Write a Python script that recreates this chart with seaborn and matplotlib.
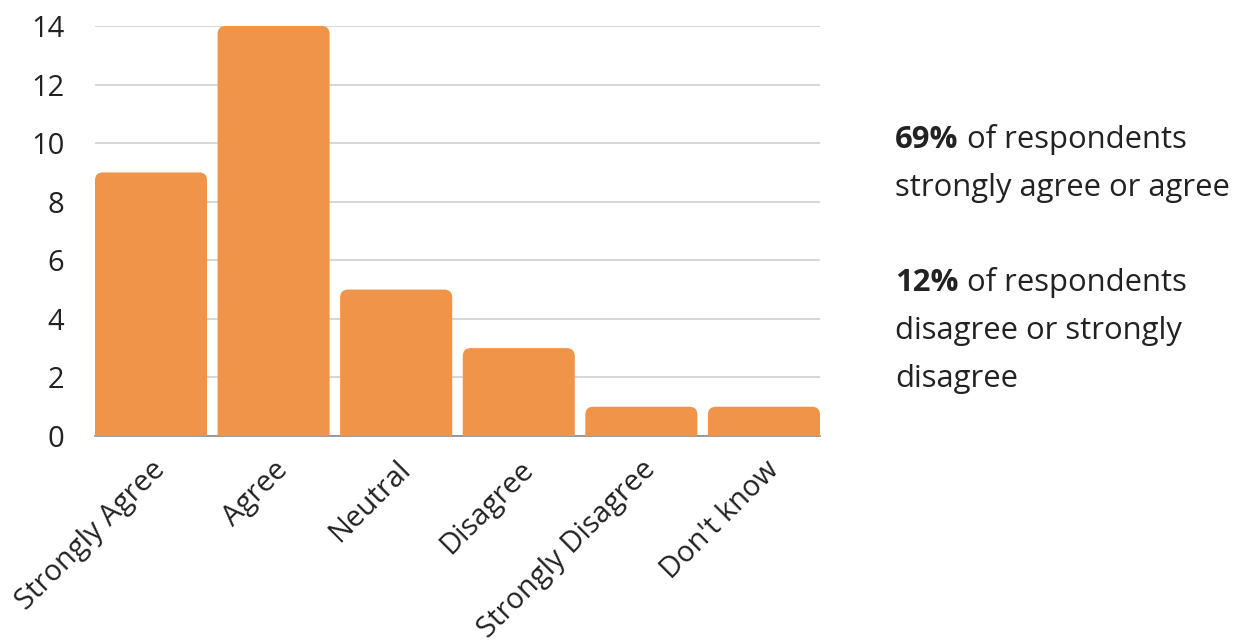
import matplotlib
matplotlib.use("Agg")
import matplotlib.pyplot as plt
from matplotlib.patches import FancyBboxPatch
import seaborn as sns
import pandas as pd

categories = ["Strongly Agree", "Agree", "Neutral", "Disagree", "Strongly Disagree", "Don't know"]
counts = [9, 14, 5, 3, 1, 1]
y_ticks = [0, 2, 4, 6, 8, 10, 12, 14]

BAR_COLOR = "#F0944A"
TEXT_COLOR = "#222222"
FONT_SIZE = 21
NOTE_SIZE = 22.3
BAR_WIDTH = 0.914

sns.set_theme(style="white")
plt.rcParams["font.family"] = ["Open Sans", "DejaVu Sans"]

df = pd.DataFrame({"response": categories, "count": counts})

fig = plt.figure(figsize=(12.53, 6.42), dpi=100)
ax = fig.add_axes([0.0758, 0.3209, 0.5786, 0.6386])

sns.barplot(data=df, x="response", y="count", color=BAR_COLOR, width=BAR_WIDTH,
            saturation=1, ax=ax, zorder=3)

ax.set_ylim(0, 14)
ax.set_xlim(-BAR_WIDTH / 2, len(categories) - 1 + BAR_WIDTH / 2)

# swap the plain rectangles for bars with rounded top corners
fig.canvas.draw()
bbox = ax.get_window_extent()
px_per_x = bbox.width / (ax.get_xlim()[1] - ax.get_xlim()[0])
px_per_y = bbox.height / (ax.get_ylim()[1] - ax.get_ylim()[0])
radius_px = 8
rx = radius_px / px_per_x
aspect = px_per_x / px_per_y
for p in list(ax.patches):
    x0, w, h = p.get_x(), p.get_width(), p.get_height()
    extra = 2 * radius_px / px_per_y
    rounded = FancyBboxPatch((x0, -extra), w, h + extra,
                             boxstyle=f"round,pad=0,rounding_size={rx}",
                             mutation_aspect=aspect,
                             facecolor=BAR_COLOR, edgecolor="none", zorder=3)
    ax.add_patch(rounded)
    p.remove()

ax.set_yticks(y_ticks)
ax.yaxis.grid(True, color="#cfcfcf", linewidth=1.2, zorder=0)
ax.xaxis.grid(False)
for side in ["top", "right", "left"]:
    ax.spines[side].set_visible(False)
ax.spines["bottom"].set_color("#8a8a8a")
ax.spines["bottom"].set_linewidth(1.2)
ax.spines["bottom"].set_zorder(2)

ax.set_xlabel("")
ax.set_ylabel("")
ax.tick_params(axis="y", length=0, pad=22, labelsize=FONT_SIZE, labelcolor=TEXT_COLOR)
ax.tick_params(axis="x", length=0, pad=14, labelsize=FONT_SIZE, labelcolor=TEXT_COLOR)
for lab in ax.get_xticklabels():
    lab.set_rotation(45)
    lab.set_rotation_mode("anchor")
    lab.set_ha("right")
    lab.set_va("top")

# summary notes beside the chart
def note(y, bold, rest_lines):
    t = fig.text(0.7145, y, bold, fontsize=NOTE_SIZE, fontweight="bold",
                 color=TEXT_COLOR, va="baseline")
    fig.canvas.draw()
    ax.annotate(" " + rest_lines[0], xy=(1, 0), xycoords=t,
                fontsize=NOTE_SIZE, color=TEXT_COLOR, va="bottom",
                annotation_clip=False)
    for i, line in enumerate(rest_lines[1:], start=1):
        fig.text(0.7145, y - i * 0.0745, line, fontsize=NOTE_SIZE,
                 color=TEXT_COLOR, va="baseline")

note(1 - 148 / 642, "69%", ["of respondents", "strongly agree or agree"])
note(1 - 291 / 642, "12%", ["of respondents", "disagree or strongly", "disagree"])

fig.savefig("out.png", dpi=100, facecolor="white")
